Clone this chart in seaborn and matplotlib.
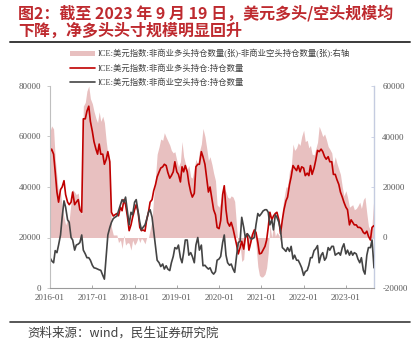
import numpy as np
import pandas as pd
import matplotlib
matplotlib.use("Agg")
import matplotlib.pyplot as plt
import matplotlib.dates as mdates
from matplotlib.lines import Line2D
from matplotlib.patches import Patch
import seaborn as sns

sns.set_theme(style="white")
plt.rcParams['font.family'] = ['Noto Sans CJK SC', 'DejaVu Sans']
plt.rcParams['axes.unicode_minus'] = False

# ---------------- data (semi-monthly) ----------------
dates = pd.date_range("2016-01-01", periods=185, freq="SMS")

long_pos = [  # 非商业多头持仓 (千张)
    54, 55, 53, 46, 38, 34, 39, 40, 42.5, 37, 34, 33, 34, 38, 33, 34, 35, 31, 30, 67,
    67, 70, 72, 66, 62, 58, 55, 53, 57, 53,
    53, 49, 51, 54, 50, 30, 28.5, 29, 29.5, 28.6, 32, 30.6, 35, 33, 28, 22.7, 25, 28, 31, 33,
    30, 24, 22.7, 23, 22.5, 27, 30, 34, 35, 38.5,
    41, 44, 46, 47.5, 48, 49, 48.5, 45.8, 43.5, 44.5, 46, 50, 46, 45, 42, 48, 46, 48.5, 46, 41.5,
    38, 36, 37.5, 48, 49, 49, 54, 52, 49, 44,
    38, 40, 35, 31, 29, 24, 23.5, 26.7, 37, 40.5, 31, 26, 24.5, 26, 23.5, 20.5, 17, 13.5, 16, 18.5,
    15.4, 20, 21.5, 15, 18, 21, 23, 22, 18, 13.5,
    13.8, 15, 16.5, 19, 24, 30, 27, 28.5, 29.5, 30, 27, 21.5, 27, 31, 34.5, 36, 41, 44, 48.5, 47.5,
    46.5, 48.5, 46, 48, 47.5, 44.5, 45.5, 44.5, 48.5, 45,
    47.5, 50.5, 54.5, 54, 55, 54, 52, 51, 52, 50, 50, 45, 45, 43, 41, 38, 36, 34, 32, 31,
    25, 27, 26, 25, 25, 24, 24, 23.5, 22, 21.5, 22.5, 20.5, 19, 24, 24.7,
]
short_pos = [  # 非商业空头持仓 (千张)
    12, 10.8, 10, 14.8, 14, 17, 21, 28, 34.5, 32, 27, 26, 20, 19, 15, 17, 17.4, 18, 21, 15,
    13.5, 12, 12, 11, 9, 8, 7.8, 7.5, 7.2, 7,
    5, 3.5, 13, 21, 24, 26, 27.5, 28, 28.5, 30.6, 33, 35, 34, 36, 30, 25, 30, 29, 34, 35,
    30, 26, 23, 24, 25, 27, 30, 31, 28, 22.7,
    17, 11, 10, 8.5, 9.5, 7.5, 8.8, 7.5, 6.9, 10, 12.5, 16, 15.5, 17, 12, 10, 14, 19, 19, 13,
    14, 12.5, 10, 17, 20, 15, 17, 8.8, 9, 8.2,
    7.5, 8, 6.2, 5.5, 6.5, 11, 11.5, 12.5, 18, 21, 13, 10, 9, 9.5, 7.5, 6.2, 13, 18, 18.5, 28,
    24, 20, 21.5, 20.7, 19.5, 19.5, 20, 25, 29.5, 28.5,
    29.5, 30.5, 31, 31, 30, 25, 27, 23, 29, 28, 26, 23, 16, 15.4, 14.5, 16, 14.5, 16.5, 11.5, 13,
    11, 11, 9.5, 8, 5, 6.5, 7, 9, 12, 12,
    14.8, 15.5, 16.8, 10, 13, 14, 11, 12, 16, 15, 16.5, 16.5, 13, 13.5, 14, 13, 16, 17.5, 13.5, 15,
    13, 14.5, 13, 14, 13.5, 11.5, 10, 12, 7, 5.5, 13, 16, 16, 19, 8,
]

lbl_net = "ICE:美元指数:非商业多头持仓数量(张)-非商业空头持仓数量(张):右轴"
lbl_long = "ICE:美元指数:非商业多头持仓:持仓数量"
lbl_short = "ICE:美元指数:非商业空头持仓:持仓数量"

left_ticks = [0, 20000, 40000, 60000, 80000]
right_ticks = [-20000, 0, 20000, 40000, 60000]

df = pd.DataFrame({
    "date": dates,
    "long": np.array(long_pos) * 1000,
    "short": np.array(short_pos) * 1000,
})
df["net"] = df["long"] - df["short"]

# ---------------- figure ----------------
fig = plt.figure(figsize=(4.2, 3.42), dpi=100)
ax = fig.add_axes([50 / 420, 1 - 288 / 342, 324 / 420, 202 / 342])
ax2 = ax.twinx()

pink = "#E8C0C0"
red = "#C00000"
dark = "#444444"

ax2.fill_between(df["date"], 0, df["net"], color=pink, linewidth=0)
ax2.set_ylim(-20000, 60000)

sns.lineplot(data=df, x="date", y="long", ax=ax, color=red, linewidth=1.2)
sns.lineplot(data=df, x="date", y="short", ax=ax, color=dark, linewidth=1.2)
ax.set_ylim(0, 80000)
ax.set_xlim(df["date"].iloc[0], df["date"].iloc[-1])

ax.set_zorder(ax2.get_zorder() + 1)
ax.patch.set_visible(False)

tick_font = dict(family="Liberation Serif", size=6.5, color="#595959")
ax.set_yticks(left_ticks)
ax2.set_yticks(right_ticks)
ax.set_yticklabels([f"{v}" for v in left_ticks], **tick_font)
ax2.set_yticklabels([f"{v}" for v in right_ticks], **tick_font)
ax.xaxis.set_major_locator(mdates.YearLocator())
ax.xaxis.set_major_formatter(mdates.DateFormatter("%Y-%m"))
for t in ax.get_xticklabels():
    t.set_fontfamily("Liberation Serif")
    t.set_fontsize(6.5)
    t.set_color("#595959")
ax.set_xlabel("")
ax.set_ylabel("")
ax2.set_ylabel("")

for a in (ax, ax2):
    for s in a.spines.values():
        s.set_visible(False)
ax.spines["left"].set_visible(True)
ax.spines["left"].set_color("#BFBFBF")
ax.spines["left"].set_linewidth(0.8)
ax.spines["bottom"].set_visible(True)
ax.spines["bottom"].set_color("#9A9A9A")
ax.spines["bottom"].set_linewidth(0.8)
ax2.spines["right"].set_visible(True)
ax2.spines["right"].set_color("#C5CCE0")
ax2.spines["right"].set_linewidth(1.0)

ax.tick_params(axis="y", which="major", left=True, length=2.5, width=0.6, color="#BFBFBF", pad=4)
ax.tick_params(axis="x", which="major", bottom=True, direction="in", length=2.5, width=0.6,
               color="#9A9A9A", pad=4)
ax2.tick_params(axis="y", which="major", right=True, direction="in", length=2.5, width=0.6,
                color="#C5CCE0", pad=6)
ax.grid(False)
ax2.grid(False)

# legend
handles = [
    Patch(facecolor=pink, edgecolor="none"),
    Line2D([], [], color=red, linewidth=1.2),
    Line2D([], [], color=dark, linewidth=1.2),
]
fig.legend(handles, [lbl_net, lbl_long, lbl_short], loc="upper left",
           bbox_to_anchor=(70 / 420, 1 - 49 / 342), frameon=False,
           prop={"family": ["Liberation Serif", "Noto Sans CJK SC"], "size": 6},
           labelcolor="#404040", handlelength=3.0, handleheight=0.6,
           handletextpad=0.3, labelspacing=0.68, borderaxespad=0, borderpad=0)

# title
title_color = "#BE2A2F"
fig.text(18 / 420, 1 - 13 / 342, "图2：截至 2023 年 9 月 19 日，美元多头/空头规模均",
         fontsize=11.5, fontweight="bold", color=title_color, va="center", ha="left")
fig.text(18 / 420, 1 - 31 / 342, "下降，净多头头寸规模明显回升",
         fontsize=11.5, fontweight="bold", color=title_color, va="center", ha="left")
fig.add_artist(Line2D([10 / 420, 410 / 420], [1 - 42 / 342, 1 - 42 / 342],
                      color="#3A3A3A", linewidth=1.4, transform=fig.transFigure))

# source
fig.add_artist(Line2D([10 / 420, 410 / 420], [1 - 322 / 342, 1 - 322 / 342],
                      color="#3A3A3A", linewidth=1.2, transform=fig.transFigure))
fig.text(27 / 420, 1 - 333 / 342, "资料来源：wind，民生证券研究院",
         fontsize=9, color="#404040", va="center", ha="left")

fig.savefig("out.png", dpi=100)
